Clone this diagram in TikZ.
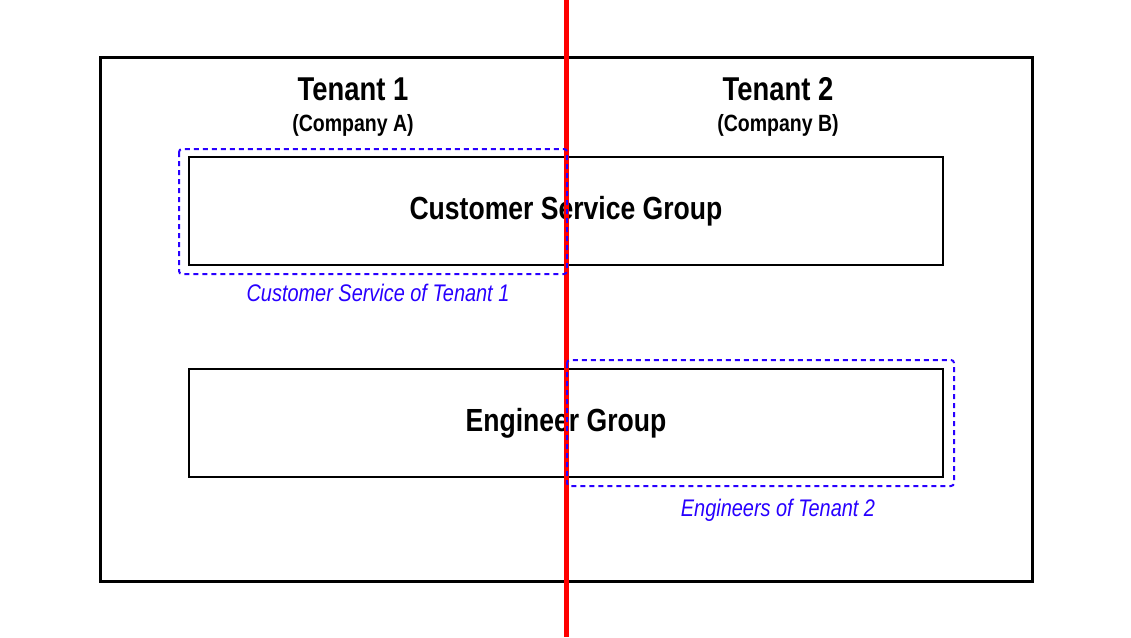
\documentclass[tikz,border=0pt]{standalone}
\usepackage{fontspec}
\setmainfont{Liberation Sans}[FakeStretch=0.83]
\definecolor{tblue}{RGB}{40,0,255}
\definecolor{tred}{RGB}{255,0,0}
\begin{document}
\begin{tikzpicture}[x=1pt,y=-1pt,
  groupbox/.style={draw=black,line width=2pt,minimum width=754pt,minimum height=108pt,inner sep=0pt,
    font=\bfseries\fontsize{32}{38}\selectfont},
  tenanttitle/.style={font=\bfseries\fontsize{33}{39}\selectfont,inner sep=0pt},
  companytxt/.style={font=\bfseries\fontsize{23.5}{28}\selectfont,inner sep=0pt},
  subsetbox/.style={draw=tblue,line width=2pt,dash pattern=on 5pt off 4pt,rounded corners=3pt},
  subsetlbl/.style={text=tblue,font=\itshape\fontsize{24}{29}\selectfont,inner sep=0pt}]
\useasboundingbox (0,0) rectangle (1131,637);
\fill[white] (0,0) rectangle (1131,637);
\draw[line width=3pt] (100,57) rectangle (1032,581);
\node[tenanttitle] (t1) at (353,89) {Tenant 1};
\node[companytxt] (c1) at (353,125) {(Company A)};
\node[tenanttitle] (t2) at (778,89) {Tenant 2};
\node[companytxt] (c2) at (778,125) {(Company B)};
\node[groupbox] (csg) at (566,211) {Customer Service Group};
\node[groupbox] (eng) at (566,423) {Engineer Group};
\coordinate (rtop) at (566,0);
\coordinate (rbot) at (566,637);
\draw[tred,line width=5pt] (rtop) -- (rbot);
\draw[subsetbox] (179,149) rectangle (567,274);
\draw[subsetbox] (567,360) rectangle (954,486);
\node[subsetlbl] (l1) at (378,293) {Customer Service of Tenant 1};
\node[subsetlbl] (l2) at (778,510) {Engineers of Tenant 2};
\end{tikzpicture}
\end{document}
